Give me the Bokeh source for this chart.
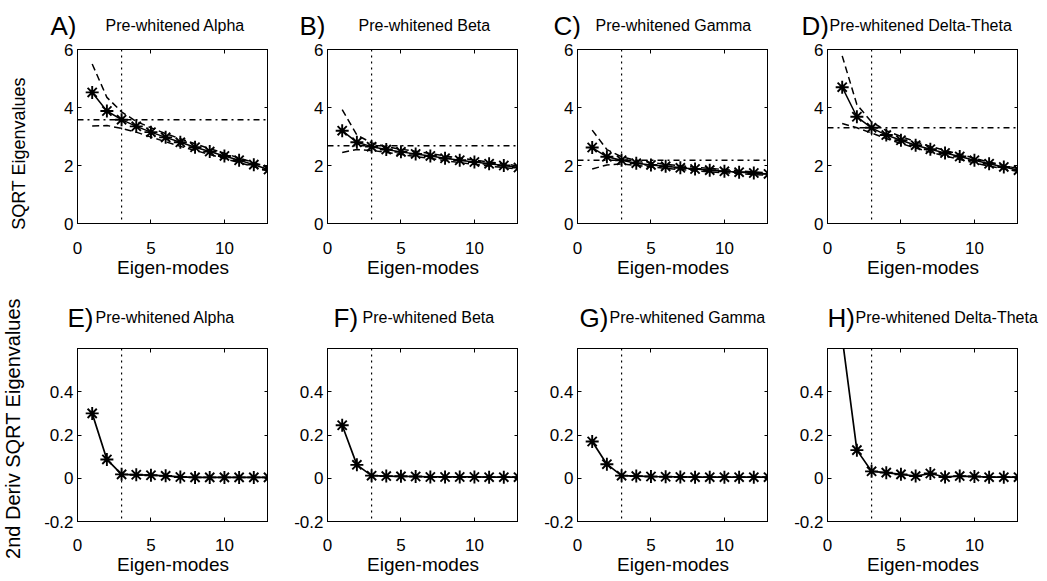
import math
from bokeh.plotting import figure
from bokeh.layouts import column, row
from bokeh.models import Span, LinearAxis, Range1d, FixedTicker
from bokeh.core.properties import value
from bokeh.embed import file_html
from bokeh.resources import INLINE

# ---------------- data ----------------
modes = list(range(1, 14))

top_letters = ["A)", "B)", "C)", "D)"]
bottom_letters = ["E)", "F)", "G)", "H)"]
band_names = ["Pre-whitened Alpha", "Pre-whitened Beta", "Pre-whitened Gamma", "Pre-whitened Delta-Theta"]
top_ylabel = "SQRT Eigenvalues"
bottom_ylabel = "2nd Deriv SQRT Eigenvalues"
xlabel = "Eigen-modes"

# SQRT eigenvalues (observed) with upper / lower dashed bounds and dash-dot threshold
alpha_sqrt = [4.52, 3.88, 3.58, 3.35, 3.15, 2.97, 2.80, 2.63, 2.48, 2.33, 2.18, 2.03, 1.86]
alpha_upper = [5.50, 4.35, 3.85, 3.52, 3.30, 3.10, 2.92, 2.75, 2.58, 2.42, 2.26, 2.10, 1.93]
alpha_lower = [3.36, 3.38, 3.28, 3.15, 2.98, 2.82, 2.66, 2.52, 2.38, 2.24, 2.10, 1.96, 1.80]

beta_sqrt = [3.20, 2.80, 2.65, 2.55, 2.47, 2.40, 2.33, 2.25, 2.18, 2.12, 2.06, 2.00, 1.93]
beta_upper = [3.93, 3.05, 2.78, 2.65, 2.56, 2.49, 2.41, 2.33, 2.26, 2.19, 2.12, 2.06, 1.98]
beta_lower = [2.45, 2.55, 2.52, 2.45, 2.38, 2.31, 2.24, 2.17, 2.10, 2.04, 1.98, 1.93, 1.87]

gamma_sqrt = [2.62, 2.30, 2.18, 2.08, 2.02, 1.97, 1.92, 1.88, 1.84, 1.80, 1.77, 1.74, 1.71]
gamma_upper = [3.22, 2.55, 2.30, 2.18, 2.10, 2.04, 1.99, 1.94, 1.90, 1.86, 1.82, 1.78, 1.75]
gamma_lower = [1.88, 2.02, 2.05, 2.00, 1.95, 1.90, 1.86, 1.82, 1.78, 1.75, 1.72, 1.69, 1.66]

delta_sqrt = [4.70, 3.68, 3.30, 3.05, 2.87, 2.70, 2.56, 2.43, 2.31, 2.18, 2.06, 1.95, 1.84]
delta_upper = [5.78, 4.10, 3.50, 3.20, 3.00, 2.82, 2.66, 2.52, 2.39, 2.25, 2.12, 2.00, 1.89]
delta_lower = [3.45, 3.30, 3.12, 2.93, 2.76, 2.60, 2.46, 2.33, 2.21, 2.09, 1.98, 1.88, 1.79]

thresholds = [3.58, 2.68, 2.18, 3.30]
cutoff_mode = 3

# 2nd derivative of SQRT eigenvalues
alpha_d2 = [0.300, 0.087, 0.018, 0.016, 0.014, 0.011, 0.006, 0.004, 0.004, 0.004, 0.004, 0.004, 0.004]
beta_d2 = [0.245, 0.062, 0.012, 0.010, 0.009, 0.008, 0.006, 0.006, 0.006, 0.006, 0.005, 0.005, 0.005]
gamma_d2 = [0.170, 0.065, 0.012, 0.010, 0.008, 0.007, 0.006, 0.005, 0.005, 0.005, 0.005, 0.005, 0.005]
delta_d2 = [0.650, 0.130, 0.032, 0.026, 0.018, 0.010, 0.022, 0.006, 0.010, 0.008, 0.005, 0.005, 0.005]

top_series = [
    (alpha_sqrt, alpha_upper, alpha_lower),
    (beta_sqrt, beta_upper, beta_lower),
    (gamma_sqrt, gamma_upper, gamma_lower),
    (delta_sqrt, delta_upper, delta_lower),
]
bottom_series = [alpha_d2, beta_d2, gamma_d2, delta_d2]

x_ticks = [0, 5, 10]
top_y_ticks = [0, 2, 4, 6]
bottom_y_ticks = [-0.2, 0, 0.2, 0.4, 0.6]
bottom_y_labels = {-0.2: "-0.2", 0: "0", 0.2: "0.2", 0.4: "0.4", 0.6: ""}

# ---------------- style / layout ----------------
FONT = "Liberation Sans"
FRAME_W = 191
TOP_FRAME_H = 174
BOT_FRAME_H = 173
LAB_W = 30                      # strip holding the rotated y labels
LAB_H = 580
col_left_border = [47, 59, 59, 59]
header_widths = [238, 250, 250, 279]
TOP_HDR_H = 39
BOT_HDR_H = 63
TOP_BORDER_TOP = 10
TOP_BORDER_BOTTOM = 62
BOT_BORDER_BOTTOM = 59

# header text positions (pixels inside each header strip): (letter_x, title_x)
top_hdr_x = [(20, 75), (31, 90), (35, 77), (33, 61)]
bot_hdr_x = [(37, 65), (65, 94), (61, 91), (59, 87)]
TOP_HDR_BASE = 14
BOT_HDR_BASE = 31
# rotated y-label centres inside the label strip (x, y)
top_ylab_pos = (18, 427)
bot_ylab_pos = (12, 152)


def header(width, height, letter, lx, name, tx, base):
    h = figure(frame_width=width, frame_height=height,
               x_range=Range1d(0, width), y_range=Range1d(0, height),
               output_backend="svg", toolbar_location=None,
               x_axis_location=None, y_axis_location=None, min_border=0)
    h.grid.visible = False
    h.outline_line_color = None
    h.text(x=[lx], y=[base], text=[letter], text_font=value(FONT), text_font_size="26px",
           text_color="black", text_baseline="alphabetic", text_align="left")
    h.text(x=[tx], y=[base], text=[name], text_font=value(FONT), text_font_size="16px",
           text_color="black", text_baseline="alphabetic", text_align="left")
    return h


def style_axes(p, yticks, ylabels=None, x_standoff=18):
    p.xaxis.ticker = FixedTicker(ticks=x_ticks)
    p.yaxis.ticker = FixedTicker(ticks=yticks)
    if ylabels is not None:
        p.yaxis.major_label_overrides = ylabels
    for ax in p.xaxis + p.yaxis:
        ax.major_tick_in = 4
        ax.major_tick_out = 0
        ax.minor_tick_line_color = None
        ax.axis_line_color = "black"
        ax.major_tick_line_color = "black"
        ax.major_label_text_font = FONT
        ax.major_label_text_font_size = "17px"
        ax.major_label_text_color = "black"
        ax.axis_label_text_font = FONT
        ax.axis_label_text_font_style = "normal"
        ax.axis_label_text_color = "black"
    p.xaxis.major_label_standoff = x_standoff
    p.xaxis.axis_label = xlabel
    p.xaxis.axis_label_text_font_size = "19px"
    p.xaxis.axis_label_standoff = 0
    p.yaxis.major_label_standoff = 4
    # mirrored ticks on top / right (no labels)
    for loc, tk in (("above", x_ticks), ("right", yticks)):
        ax = LinearAxis(ticker=FixedTicker(ticks=tk))
        ax.major_tick_in = 4
        ax.major_tick_out = 0
        ax.minor_tick_line_color = None
        ax.major_label_text_font_size = "1px"
        ax.major_label_text_color = None
        ax.major_label_standoff = 0
        ax.axis_line_color = "black"
        ax.major_tick_line_color = "black"
        p.add_layout(ax, loc)
    p.xgrid.visible = False
    p.ygrid.visible = False
    p.outline_line_color = "black"
    p.outline_line_width = 1
    p.background_fill_color = "white"
    p.border_fill_color = "white"


top_figs = []
for i in range(4):
    main, upper, lower = top_series[i]
    p = figure(frame_width=FRAME_W, frame_height=TOP_FRAME_H,
               x_range=Range1d(0, 13), y_range=Range1d(0, 6),
               output_backend="svg", toolbar_location=None,
               min_border_left=col_left_border[i], min_border_right=0,
               min_border_top=TOP_BORDER_TOP, min_border_bottom=TOP_BORDER_BOTTOM)
    p.line(modes, upper, line_color="black", line_width=1.5, line_dash="7 4")
    p.line(modes, lower, line_color="black", line_width=1.5, line_dash="7 4")
    p.line(modes, main, line_color="black", line_width=1.5)
    p.scatter(modes, main, marker="asterisk", size=13, line_color="black", line_width=1.9)
    p.add_layout(Span(location=cutoff_mode, dimension="height", line_color="black",
                      line_dash="dotted", line_width=1.2))
    p.add_layout(Span(location=thresholds[i], dimension="width", line_color="black",
                      line_dash="dashdot", line_width=1.4))
    style_axes(p, top_y_ticks)
    top_figs.append(p)

bottom_figs = []
for i in range(4):
    d2 = bottom_series[i]
    p = figure(frame_width=FRAME_W, frame_height=BOT_FRAME_H,
               x_range=Range1d(0, 13), y_range=Range1d(-0.2, 0.6),
               output_backend="svg", toolbar_location=None,
               min_border_left=col_left_border[i], min_border_right=0,
               min_border_top=0, min_border_bottom=BOT_BORDER_BOTTOM)
    p.line(modes, d2, line_color="black", line_width=1.7)
    p.scatter(modes, d2, marker="asterisk", size=13, line_color="black", line_width=1.9)
    p.add_layout(Span(location=cutoff_mode, dimension="height", line_color="black",
                      line_dash="dotted", line_width=1.2))
    style_axes(p, bottom_y_ticks, bottom_y_labels, x_standoff=17)
    bottom_figs.append(p)

top_headers = [header(header_widths[i], TOP_HDR_H, top_letters[i], top_hdr_x[i][0],
                      band_names[i], top_hdr_x[i][1], TOP_HDR_BASE) for i in range(4)]
bot_headers = [header(header_widths[i], BOT_HDR_H, bottom_letters[i], bot_hdr_x[i][0],
                      band_names[i], bot_hdr_x[i][1], BOT_HDR_BASE) for i in range(4)]

# strip with the two rotated y-axis labels
lab = figure(frame_width=LAB_W, frame_height=LAB_H,
             x_range=Range1d(0, LAB_W), y_range=Range1d(0, LAB_H),
             output_backend="svg", toolbar_location=None,
             x_axis_location=None, y_axis_location=None, min_border=0)
lab.grid.visible = False
lab.outline_line_color = None
lab.text(x=[top_ylab_pos[0]], y=[top_ylab_pos[1]], text=[top_ylabel], angle=math.pi / 2,
         text_font=value(FONT), text_font_size="18px", text_color="black",
         text_align="center", text_baseline="middle")
lab.text(x=[bot_ylab_pos[0]], y=[bot_ylab_pos[1]], text=[bottom_ylabel], angle=math.pi / 2,
         text_font=value(FONT), text_font_size="20px", text_color="black",
         text_align="center", text_baseline="middle")

grid = column(row(*top_headers), row(*top_figs), row(*bot_headers), row(*bottom_figs))
layout = row(lab, grid)
open("out.html", "w").write(file_html(layout, INLINE))
